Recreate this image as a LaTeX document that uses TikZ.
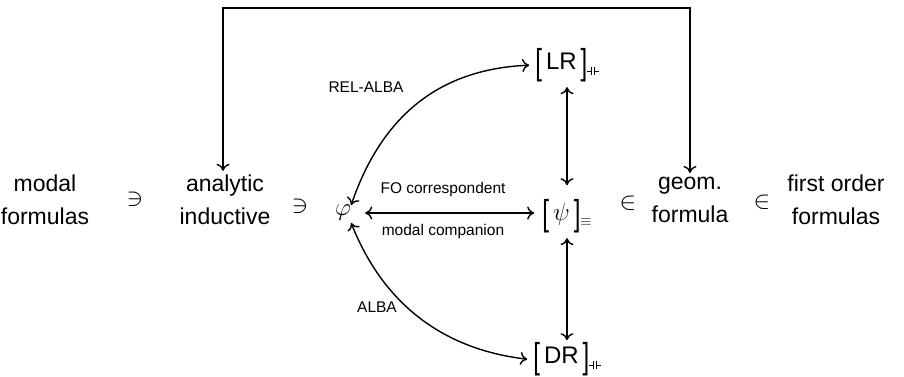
\documentclass[tikz,border=0pt]{standalone}
\usepackage{amsmath}
\usepackage{graphicx}
\usepackage{fontspec}
\setmainfont{Liberation Sans}
\usetikzlibrary{arrows.meta}
% tall thin brackets around an equivalence class
\newcommand{\lbrk}{\raisebox{-4.5pt}{\scalebox{1}[1.5]{[}}}
\newcommand{\rbrk}{\raisebox{-4.5pt}{\scalebox{1}[1.5]{]}}}
% small "inter-derivable" sign: -||-
\newcommand{\bivd}{\rule[3.6pt]{3.6pt}{0.8pt}\rule{0.8pt}{8.4pt}\hspace{2.4pt}\rule{0.8pt}{8.4pt}\rule[3.6pt]{3.6pt}{0.8pt}}
\newcommand{\eqsub}{\raisebox{-5pt}{\fontsize{15}{15}\selectfont$\equiv$}}
\begin{document}
\begin{tikzpicture}[x=1pt,y=1pt,
  lbl/.style={font=\fontsize{23}{33}\selectfont, align=center, inner sep=0pt},
  rel/.style={font=\fontsize{24}{28}\selectfont, inner sep=0pt},
  cls/.style={font=\fontsize{24}{28}\selectfont, inner sep=0pt, anchor=base},
  small/.style={font=\fontsize{15.5}{18}\selectfont, inner sep=0pt},
  both/.style={{Computer Modern Rightarrow[length=7pt,width=13pt]}-{Computer Modern Rightarrow[length=7pt,width=13pt]}, line width=1.4pt}]
\useasboundingbox (0,0) rectangle (904,377);

% row of formula classes
\node[lbl] (modal)    at (45,177)  {modal\\formulas};
\node[rel] (ni1)      at (135,178) {$\ni$};
\node[lbl] (analytic) at (225,177) {analytic\\inductive};
\node[rel] (ni2)      at (300,171) {$\ni$};
\node[rel, font=\fontsize{23}{26}\selectfont] (phi) at (343,164) {$\varphi$};
\node[cls] (psi)      at (567,156) {\lbrk\,$\psi$\,\rbrk\eqsub};
\node[rel] (in1)      at (628,174) {$\in$};
\node[lbl] (geom)     at (690,177) {geom.\\formula};
\node[rel] (in2)      at (762,175) {$\in$};
\node[lbl] (first)    at (836,177) {first order\\formulas};

% equivalence classes above and below
\node[cls] (LR) at (567,307) {\lbrk\,LR\,\rbrk\raisebox{-5pt}{\bivd}};
\node[cls] (DR) at (567,13)  {\lbrk\,DR\,\rbrk\raisebox{-5pt}{\bivd}};

% loop over the top
\coordinate (top) at (450,369);
\draw[both, shorten <=4pt, shorten >=4pt] (analytic.north) ++(-2,0) coordinate (aTop)
            (aTop) |- (top) -| (geom.north);

% horizontal correspondence
\draw[both, shorten <=14pt, shorten >=8pt] (phi) -- (psi.west |- phi);
\node[small] (fo) at (443,188) {FO correspondent};
\node[small] (mc) at (443,146) {modal companion};

% vertical equivalences
\draw[both, shorten <=5pt, shorten >=14pt] (LR.south -| psi) -- (psi.north -| psi);
\draw[both, shorten <=5pt, shorten >=2pt] (psi.south -| psi) -- (DR.north -| psi);

% ALBA curves
\draw[both] (phi.north east) coordinate (phiT)
  (phiT) .. controls (382,262) and (440,308) .. ([xshift=-6pt]LR.west);
\draw[both] (phi.south east) ++(0,-2) coordinate (phiB)
  (phiB) .. controls (382,76) and (440,28) .. ([xshift=-6pt]DR.west);
\node[small] (rel) at (366,290) {REL-ALBA};
\node[small] (alba) at (377,70) {ALBA};
\end{tikzpicture}
\end{document}
